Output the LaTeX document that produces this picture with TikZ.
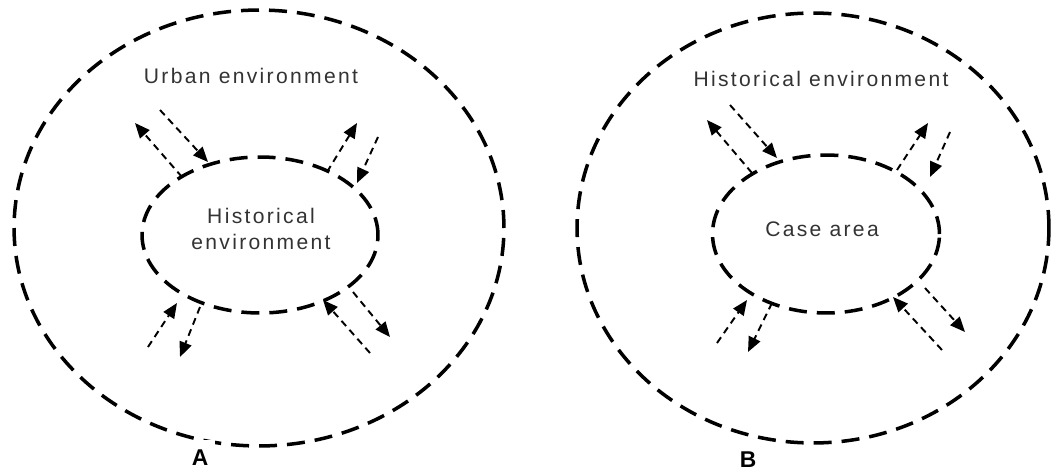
\documentclass[tikz,border=0pt]{standalone}
\usepackage{fontspec}
\setmainfont{Liberation Sans}
\newfontfamily\spaced[LetterSpace=11]{Liberation Sans}
\usetikzlibrary{shapes.geometric, arrows.meta}
\tikzstyle{zone} = [ellipse, draw=black, inner sep=0pt, line width=2pt,
                    dash pattern=on 0.36cm off 0.2cm]
\tikzstyle{txt}  = [text=black!80, font=\fontsize{12}{16}\selectfont\spaced,
                    inner sep=0pt, align=center]
\tikzstyle{tag}  = [font=\fontsize{13}{15}\selectfont\bfseries, inner sep=2pt]
\tikzstyle{flow} = [line width=1.1pt, dash pattern=on 0.14cm off 0.1cm,
                    -{Triangle[length=0.3cm, width=0.25cm]}]

\begin{document}
\begin{tikzpicture}[x=0.02cm, y=-0.02cm]
  \useasboundingbox (0,0) rectangle (1052,470);

  % Diagram A
  \node (urbA) [zone, minimum width=9.8cm, minimum height=8.72cm] at (259,228) {};
  \node (hisA) [zone, minimum width=4.72cm, minimum height=3.12cm] at (260,235) {};
  \node (urbAtxt) [txt, anchor=base] at (251,83) {Urban environment};
  \node (hisAtxt) [txt] at (261,229) {Historical\\[-1pt]environment};
  \node (labA) [tag, fill=white, inner ysep=6pt, inner xsep=4pt] at (200,458) {A};

  % Diagram B
  \node (hisB)  [zone, minimum width=9.44cm, minimum height=8.6cm] at (813,228) {};
  \node (caseB) [zone, minimum width=4.54cm, minimum height=3.16cm] at (826,234) {};
  \node (hisBtxt)  [txt, anchor=base] at (821,86) {Historical environment};
  \node (caseBtxt) [txt] at (822,229) {Case area};
  \node (labB) [tag] at (748,460) {B};

  % Arrow ends, A
  \coordinate (a1s) at (182,177); \coordinate (a1e) at (135,123);
  \coordinate (a2s) at (160,110); \coordinate (a2e) at (208,162);
  \coordinate (a3s) at (327,172); \coordinate (a3e) at (357,123);
  \coordinate (a4s) at (378,137); \coordinate (a4e) at (357,183);
  \coordinate (a5s) at (148,347); \coordinate (a5e) at (177,303);
  \coordinate (a6s) at (200,307); \coordinate (a6e) at (180,357);
  \coordinate (a7s) at (370,353); \coordinate (a7e) at (323,300);
  \coordinate (a8s) at (353,292); \coordinate (a8e) at (390,337);

  % Arrow ends, B
  \coordinate (b1s) at (752,173); \coordinate (b1e) at (707,120);
  \coordinate (b2s) at (730,105); \coordinate (b2e) at (777,158);
  \coordinate (b3s) at (897,170); \coordinate (b3e) at (928,123);
  \coordinate (b4s) at (950,132); \coordinate (b4e) at (930,177);
  \coordinate (b5s) at (717,343); \coordinate (b5e) at (747,300);
  \coordinate (b6s) at (772,303); \coordinate (b6e) at (748,352);
  \coordinate (b7s) at (942,350); \coordinate (b7e) at (893,297);
  \coordinate (b8s) at (925,288); \coordinate (b8e) at (965,332);

  % Exchange arrows
  \foreach \p in {a,b}
    \foreach \i in {1,...,8}
      \draw[flow] (\p\i s) -- (\p\i e);

\end{tikzpicture}
\end{document}
